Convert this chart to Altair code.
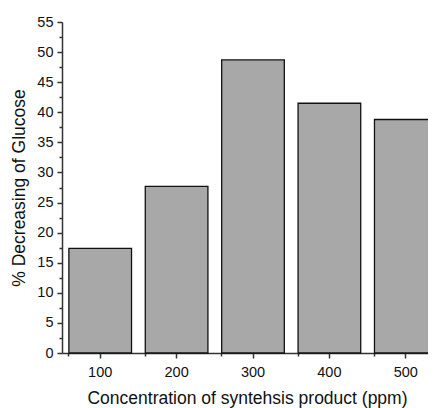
import altair as alt
import pandas as pd

concentrations = ["100", "200", "300", "400", "500"]
decrease_pct = [17.4, 27.7, 48.7, 41.5, 38.8]

df = pd.DataFrame({"conc": concentrations, "pct": decrease_pct})

FONT = "Liberation Sans"
AX = "#333333"

x_scale = alt.Scale(paddingInner=0.18, paddingOuter=0.09, range=[0, 382])
y_scale = alt.Scale(domain=[0, 55], nice=False)

bars = alt.Chart(df).mark_bar(
    fill="#a8a8a8", stroke="#111111", strokeWidth=1.3
).encode(
    x=alt.X("conc:N", scale=x_scale, sort=concentrations,
            axis=alt.Axis(title="Concentration of syntehsis product (ppm)", orient="bottom",
                          labelAngle=0, labelFontSize=14.5, titleFontSize=17.5,
                          labelFont=FONT, titleFont=FONT, labelColor="#111", titleColor="#111",
                          titleFontWeight="normal", tickSize=5, tickWidth=1.5, tickColor=AX,
                          domainColor=AX, domainWidth=1.5, labelPadding=7, titlePadding=11,
                          titleX=185, titleAnchor="middle")),
    y=alt.Y("pct:Q", scale=y_scale,
            axis=alt.Axis(title="% Decreasing of Glucose", orient="left",
                          values=list(range(0, 56, 5)), labelFontSize=14.5, titleFontSize=17.5,
                          labelFont=FONT, titleFont=FONT, labelColor="#111", titleColor="#111",
                          titleFontWeight="normal", tickSize=5, tickWidth=1.5, tickColor=AX,
                          domainColor=AX, domainWidth=1.5, labelPadding=4, titlePadding=8,
                          grid=False)),
)

minor = alt.Chart(df).mark_bar(opacity=0).encode(
    x=alt.X("conc:N", scale=x_scale, sort=concentrations,
            axis=alt.Axis(title=None, orient="bottom", labels=False, bandPosition=0,
                          tickSize=3, tickWidth=1.5, tickColor=AX, domain=False)),
    y=alt.Y("pct:Q", scale=y_scale,
            axis=alt.Axis(title=None, orient="left", labels=False,
                          values=[2.5 + 5 * i for i in range(11)],
                          tickSize=3, tickWidth=1.5, tickColor=AX, domain=False, grid=False)),
)

chart = alt.layer(minor, bars).resolve_axis(x="independent", y="independent").properties(
    width=366, height=331,
    autosize=alt.AutoSizeParams(type="none"),
    padding={"left": 54, "top": 14, "right": 0, "bottom": 58},
).configure(
    background="white",
    view=alt.ViewConfig(strokeWidth=0, stroke="transparent"),
)

chart.save("out.html", embed_options={"renderer": "svg", "actions": False})
